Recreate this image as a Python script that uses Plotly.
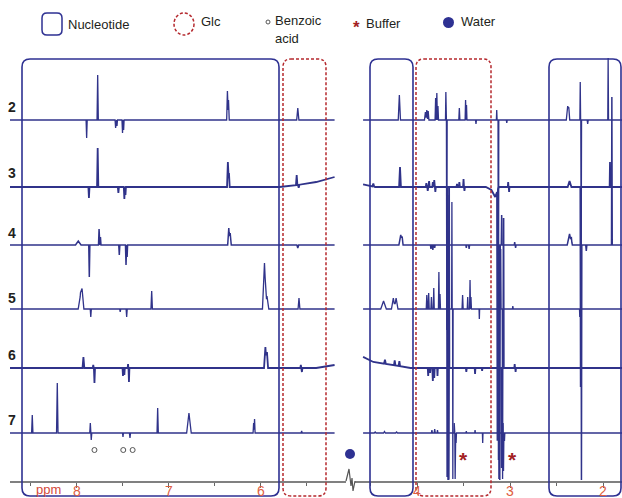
import numpy as np
import plotly.graph_objects as go

W, H = 622, 498
AXIS_PX = 481

NAVY = "#30338a"
BOX_NAVY = "#2e3192"
RED = "#b5292e"
TICK_RED = "#e0603f"

# ---------------- data: peaks as (ppm, intensity, half-width in ppm) ----------------
row_names = ["2", "3", "4", "5", "6", "7"]

row2_left = [(7.895, -18, 0.006), (7.775, 45, 0.007), (7.58, -8, 0.006), (7.565, -6, 0.005),
             (7.505, -13, 0.006), (7.493, -10, 0.005), (6.365, 29, 0.008), (6.353, 20, 0.008),
             (5.60, 12, 0.012)]
row3_left = [(7.87, -11, 0.006), (7.775, 39, 0.007), (7.55, -6, 0.006), (7.485, -12, 0.006),
             (7.473, -8, 0.005), (6.36, 25, 0.009), (6.348, 14, 0.008), (5.612, 10, 0.008),
             (5.59, -3, 0.008)]
row4_left = [(7.986, 4, 0.03), (7.866, -32, 0.006), (7.76, 16, 0.006), (7.745, 8, 0.006),
             (7.54, -10, 0.006), (7.467, -20, 0.006), (7.455, -12, 0.005), (6.35, 17, 0.012),
             (6.335, 12, 0.012), (5.60, -3, 0.01)]
row5_left = [(7.962, 14, 0.025), (7.945, 16, 0.02), (7.85, -8, 0.006), (7.53, -3, 0.006),
             (7.46, -8, 0.006), (7.188, 18, 0.008), (5.962, 46, 0.022), (5.935, 13, 0.02),
             (5.587, 11, 0.01)]
row6_left = [(7.93, 11, 0.01), (7.823, 3, 0.005), (7.81, -15, 0.006), (7.50, -8, 0.005),
             (7.485, -7, 0.005), (7.445, 4, 0.004), (7.435, -14, 0.005), (5.952, 21, 0.015),
             (5.935, 16, 0.012), (5.567, 3, 0.005), (5.555, -4, 0.006)]
row7_left = [(8.486, 18, 0.007), (8.214, 50, 0.008), (7.855, 10, 0.006), (7.845, -7, 0.006),
             (7.50, -4, 0.005), (7.424, -5, 0.006), (7.123, 25, 0.007), (6.783, 20, 0.025),
             (6.08, 10, 0.006), (6.07, 14, 0.006), (5.558, 2, 0.006)]

row2_right = [(4.19, 25, 0.012), (3.91, 8, 0.01), (3.895, 10, 0.008), (3.88, 9, 0.008),
              (3.80, 22, 0.006), (3.787, 27, 0.006), (3.775, 14, 0.006), (3.69, 28, 0.004),
              (3.68, -210, 0.004), (3.545, 12, 0.006), (3.478, 20, 0.005), (3.468, 15, 0.005),
              (3.366, -4, 0.005), (3.143, 10, 0.004), (3.125, -340, 0.004), (3.035, -3, 0.005),
              (2.38, 14, 0.015), (2.368, 10, 0.01), (2.245, 38, 0.004), (2.235, -150, 0.004),
              (2.165, -4, 0.006), (1.945, 62, 0.004)]
row3_right = [(4.47, 3, 0.01), (4.183, 20, 0.01), (3.90, 4, 0.006), (3.885, -4, 0.005),
              (3.87, 6, 0.006), (3.83, 5, 0.006), (3.815, 7, 0.006), (3.803, -5, 0.005),
              (3.675, -290, 0.004), (3.57, 3, 0.006), (3.545, 5, 0.006), (3.50, 8, 0.005),
              (3.49, -4, 0.005), (3.135, -250, 0.005), (3.02, 5, 0.004), (3.01, -5, 0.004),
              (2.36, 6, 0.02), (2.24, -200, 0.004), (1.925, 25, 0.004)]
row4_right = [(4.175, 10, 0.02), (4.16, 6, 0.01), (3.85, -4, 0.006), (3.83, -5, 0.005),
              (3.81, -3, 0.005), (3.67, 50, 0.004), (3.66, -235, 0.004), (3.47, -3, 0.005),
              (3.44, -4, 0.005), (3.11, -235, 0.005), (3.09, 30, 0.004), (2.95, 3, 0.004),
              (2.94, -3, 0.004), (2.36, 11, 0.025), (2.34, 5, 0.01), (2.232, -235, 0.004),
              (2.18, -6, 0.006), (1.905, 148, 0.004)]
row5_right = [(4.36, 8, 0.03), (4.255, 11, 0.02), (4.225, 11, 0.02), (3.895, 14, 0.006),
              (3.875, 16, 0.006), (3.845, 12, 0.006), (3.82, 21, 0.005), (3.765, 37, 0.005),
              (3.753, 15, 0.005), (3.66, -170, 0.004), (3.625, 107, 0.003), (3.615, -170, 0.003),
              (3.51, 14, 0.006), (3.455, 12, 0.005), (3.43, 29, 0.005), (3.42, 12, 0.005),
              (3.33, -10, 0.003), (3.12, -170, 0.005), (3.10, 60, 0.004), (3.08, -170, 0.004),
              (2.97, 3, 0.005), (2.25, -8, 0.003)]
row6_right = [(4.345, 4, 0.01), (4.24, 5, 0.008), (4.19, 5, 0.008), (3.88, -8, 0.005),
              (3.86, -5, 0.005), (3.83, -13, 0.006), (3.815, -10, 0.005), (3.78, -8, 0.004),
              (3.665, -112, 0.004), (3.655, 180, 0.003), (3.47, -4, 0.005), (3.376, -6, 0.004),
              (3.30, -3, 0.004), (3.09, -100, 0.004), (3.07, 150, 0.003), (2.95, 4, 0.004),
              (2.94, -4, 0.004)]
row7_right = [(4.45, 1, 0.01), (4.35, 1.5, 0.01), (4.22, 1, 0.01), (3.84, 3, 0.006),
              (3.81, 4, 0.006), (3.78, 3, 0.005), (3.60, 10, 0.003), (3.59, -46, 0.004),
              (3.58, -10, 0.004), (3.47, 2, 0.004), (3.376, 3, 0.004), (3.294, -10, 0.003),
              (3.075, 10, 0.003), (3.07, -38, 0.004), (3.06, -8, 0.004)]

# baseline drift anchors (ppm, offset)
row3_left_base = [(8.74, 0), (5.80, 0), (5.60, 2), (5.40, 5), (5.20, 10)]
row6_left_base = [(8.74, 0), (5.40, 0), (5.20, 3)]
row3_right_base = [(4.60, 3), (4.45, 0), (3.26, 0), (3.20, -3), (3.16, -10), (3.12, 0), (1.79, 0)]
row6_right_base = [(4.60, 12), (4.47, 6), (4.26, 3), (4.07, 0), (1.79, 0)]

left_rows = [row2_left, row3_left, row4_left, row5_left, row6_left, row7_left]
right_rows = [row2_right, row3_right, row4_right, row5_right, row6_right, row7_right]
left_bases = [None, row3_left_base, None, None, row6_left_base, None]
right_bases = [None, row3_right_base, None, None, row6_right_base, None]

benzoic_ppm = [7.81, 7.497, 7.395]
buffer_ppm = [3.50, 2.97]

left_ticks = [8, 7, 6]
left_minor = [8.5, 7.5, 6.5, 5.5]
right_ticks = [4, 3, 2]
right_minor = [4.5, 3.5, 2.5]

# ---------------- layout constants ----------------
row_base_px = [120, 187, 245, 309, 368, 433]
row_label_px = [107, 173, 233, 298, 355, 420]
line_widths = [1.3, 1.8, 1.5, 1.3, 1.8, 1.3]
LEFT_SPAN = (8.74, 5.20)
RIGHT_SPAN = (4.58, 1.78)

FONT = "Arial, Liberation Sans, sans-serif"


def build(peaks, anchors, hi, lo):
    xs = {hi, lo}
    for c, h, w in peaks:
        xs.update([c - w, c, c + w])
    if anchors:
        xs.update(a[0] for a in anchors)
    xs = np.array(sorted(x for x in xs if lo <= x <= hi))
    if anchors:
        ax = np.array([a[0] for a in anchors])
        ay = np.array([a[1] for a in anchors], dtype=float)
        order = np.argsort(ax)
        base = np.interp(xs, ax[order], ay[order])
    else:
        base = np.zeros_like(xs)
    y = base.copy()
    for c, h, w in peaks:
        y += h * np.clip(1 - np.abs(xs - c) / w, 0, None)
    return xs[::-1], y[::-1]


fig = go.Figure()
for i in range(6):
    off = AXIS_PX - row_base_px[i]
    x, y = build(left_rows[i], left_bases[i], *LEFT_SPAN)
    fig.add_trace(go.Scatter(x=x, y=y + off, mode="lines", xaxis="x", yaxis="y",
                             line=dict(color=NAVY, width=line_widths[i]), hoverinfo="skip",
                             showlegend=False))
    x, y = build(right_rows[i], right_bases[i], *RIGHT_SPAN)
    fig.add_trace(go.Scatter(x=x, y=y + off, mode="lines", xaxis="x2", yaxis="y",
                             line=dict(color=NAVY, width=line_widths[i]), hoverinfo="skip",
                             showlegend=False))

# benzoic acid markers
fig.add_trace(go.Scatter(x=benzoic_ppm, y=[AXIS_PX - 450] * len(benzoic_ppm), mode="markers",
                         xaxis="x", yaxis="y", showlegend=False, hoverinfo="skip",
                         marker=dict(symbol="circle-open", size=5, color="#555", line=dict(width=1))))


def PX(x):
    return x / W


def PY(y):
    return 1 - y / H


def rrect(x0, y0, x1, y1, r):
    p = (f"M {PX(x0+r)},{PY(y0)} L {PX(x1-r)},{PY(y0)} Q {PX(x1)},{PY(y0)} {PX(x1)},{PY(y0+r)} "
         f"L {PX(x1)},{PY(y1-r)} Q {PX(x1)},{PY(y1)} {PX(x1-r)},{PY(y1)} "
         f"L {PX(x0+r)},{PY(y1)} Q {PX(x0)},{PY(y1)} {PX(x0)},{PY(y1-r)} "
         f"L {PX(x0)},{PY(y0+r)} Q {PX(x0)},{PY(y0)} {PX(x0+r)},{PY(y0)} Z")
    return p


shapes = []
for (x0, x1) in [(22, 279), (370, 413), (549, 621)]:
    shapes.append(dict(type="path", xref="paper", yref="paper", path=rrect(x0, 59, x1, 496, 8),
                       line=dict(color=BOX_NAVY, width=1.6), layer="above"))
for (x0, x1) in [(283, 326), (416, 491)]:
    shapes.append(dict(type="path", xref="paper", yref="paper", path=rrect(x0, 59, x1, 496, 8),
                       line=dict(color=RED, width=1.5, dash="3px,2px"), layer="above"))

# axis break zigzag
zz = [(346, 481), (349, 469), (351, 486), (352, 478), (353, 491), (355, 481)]
shapes.append(dict(type="path", xref="paper", yref="paper",
                   path="M " + " L ".join(f"{PX(a)},{PY(b)}" for a, b in zz),
                   line=dict(color="#555", width=1.2)))
# water dot
shapes.append(dict(type="circle", xref="paper", yref="paper", x0=PX(345), x1=PX(355),
                   y0=PY(459), y1=PY(449), fillcolor=BOX_NAVY, line=dict(color=BOX_NAVY, width=0)))

# legend icons
shapes.append(dict(type="path", xref="paper", yref="paper", path=rrect(42, 13, 62, 35, 5),
                   line=dict(color=BOX_NAVY, width=1.5)))
shapes.append(dict(type="circle", xref="paper", yref="paper", x0=PX(174), x1=PX(194),
                   y0=PY(35), y1=PY(13), line=dict(color=RED, width=1.5, dash="3px,2px")))
shapes.append(dict(type="circle", xref="paper", yref="paper", x0=PX(266), x1=PX(270),
                   y0=PY(24), y1=PY(20), line=dict(color="#555", width=1)))
shapes.append(dict(type="circle", xref="paper", yref="paper", x0=PX(443), x1=PX(454),
                   y0=PY(28), y1=PY(17), fillcolor=BOX_NAVY, line=dict(color=BOX_NAVY, width=0)))

TXT = dict(family=FONT, size=13, color="#231f20")
ann = []


def text(xp, yp, s, font=TXT, xanchor="left"):
    ann.append(dict(x=PX(xp), y=PY(yp), xref="paper", yref="paper", text=s, showarrow=False,
                    xanchor=xanchor, yanchor="middle", font=font))


text(66, 24, "Nucleotide")
text(199, 22, "Glc")
text(273, 20, "Benzoic")
text(273, 38, "acid")
text(364, 23, "Buffer")
text(459, 22, "Water")
ann.append(dict(x=PX(48), y=0, xref="paper", yref="paper", text="ppm", showarrow=False,
                xanchor="center", yanchor="bottom", borderpad=0, yshift=0,
                font=dict(family=FONT, size=13, color="#d4483a")))
for i, name in enumerate(row_names):
    text(12, row_label_px[i], f"<b>{name}</b>", font=dict(family=FONT, size=14, color="#231f20"),
         xanchor="center")

# tick labels (placed at the axis values)
for ref, vals in (("x", left_ticks), ("x2", right_ticks)):
    for v in vals:
        ann.append(dict(x=v, y=0, xref=ref, yref="paper", text=str(v), showarrow=False,
                        xanchor="center", yanchor="bottom", borderpad=0, yshift=-2,
                        font=dict(family=FONT, size=14, color=TICK_RED)))

# asterisks (buffer): legend + two in the plot
STAR = "#a31f24"
text(356, 23 + 4, "<b>*</b>", font=dict(family=FONT, size=17, color=STAR), xanchor="center")
for bp in buffer_ppm:
    ann.append(dict(x=bp, y=AXIS_PX - 454 - 5, xref="x2", yref="y", text="<b>*</b>",
                    showarrow=False, xanchor="center", yanchor="middle",
                    font=dict(family=FONT, size=21, color=STAR)))

axis_common = dict(showline=True, linecolor="#808080", linewidth=1.5, ticks="outside",
                   ticklen=5, tickwidth=1.2, tickcolor="#666", showgrid=False, zeroline=False,
                   showticklabels=False, automargin=False, fixedrange=True)

fig.update_layout(
    width=W, height=H, autosize=False,
    margin=dict(l=0, r=0, t=0, b=0, autoexpand=False),
    paper_bgcolor="white", plot_bgcolor="white",
    xaxis=dict(domain=[10 / W, 346 / W], range=[8.728, 5.076], anchor="y",
               tickvals=left_ticks,
               minor=dict(tickvals=left_minor, ticks="outside", ticklen=3, tickcolor="#666"),
               **axis_common),
    xaxis2=dict(domain=[355 / W, 1], range=[4.667, 1.796], anchor="y",
                tickvals=right_ticks,
                minor=dict(tickvals=right_minor, ticks="outside", ticklen=3, tickcolor="#666"),
                **axis_common),
    yaxis=dict(domain=[(H - AXIS_PX) / H, 1], range=[0, AXIS_PX], visible=False,
               fixedrange=True, automargin=False),
    shapes=shapes, annotations=ann,
)

fig.write_html("out.html", config={"displayModeBar": False},
               post_script="document.body.style.margin='0px';")
